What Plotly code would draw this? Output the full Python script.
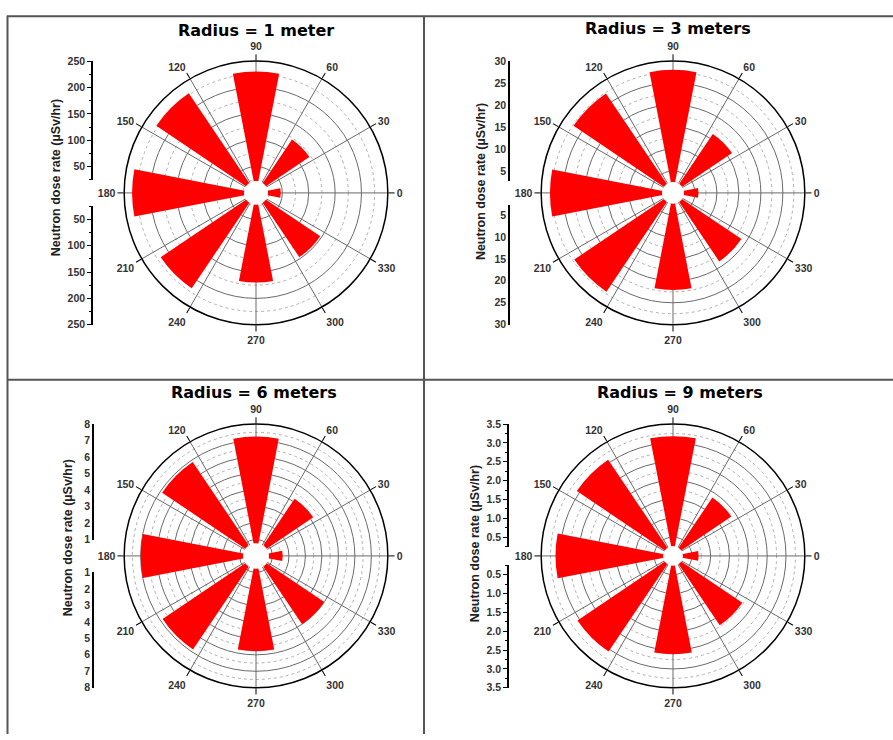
import plotly.graph_objects as go

# Directions of the detector positions (degrees) and measured neutron dose rates (µSv/hr)
directions = [0, 45, 90, 135, 180, 225, 270, 315]
dose_1m = [47, 122, 230, 228, 235, 218, 170, 147]
dose_3m = [5.8, 16.2, 28.0, 27.3, 28.0, 27.1, 22.1, 18.8]
dose_6m = [1.62, 4.19, 7.24, 6.87, 7.0, 6.84, 5.79, 5.0]
dose_9m = [0.68, 1.87, 3.18, 3.08, 3.12, 3.06, 2.61, 2.22]

titles = ["Radius = 1 meter", "Radius = 3 meters", "Radius = 6 meters", "Radius = 9 meters"]
radial_max = [250, 30, 8, 3.5]
radial_major = [
    [50, 100, 150, 200, 250],
    [5, 10, 15, 20, 25, 30],
    [1, 2, 3, 4, 5, 6, 7, 8],
    [0.5, 1.0, 1.5, 2.0, 2.5, 3.0, 3.5],
]
radial_labels = [
    ["50", "100", "150", "200", "250"],
    ["5", "10", "15", "20", "25", "30"],
    ["1", "2", "3", "4", "5", "6", "7", "8"],
    ["0.5", "1.0", "1.5", "2.0", "2.5", "3.0", "3.5"],
]
angle_ticks = list(range(0, 360, 30))
angle_labels = [str(a) for a in angle_ticks]
axis_title = "Neutron dose rate (µSv/hr)"

W, H = 893, 740
R = 134
centers = [(256, 190), (673, 190), (256, 559), (673, 559)]
axis_x = [93, 510, 94, 509]
axis_gap = [13, 12, 16, 9]
hole_px = [12, 11, 13, 10]
minor_ticks = [True, False, False, True]
title_pos = [(256, 25), (668, 23), (254, 393), (680, 393)]
ytitle_pos = [(56, 175), (481, 178), (68, 541), (475, 547)]
series = [dose_1m, dose_3m, dose_6m, dose_9m]


def fx(x):
    return x / W


def fy(y):
    return 1 - y / H


tick_font = dict(family="Liberation Sans", size=10.5, color="#333333", weight="bold")

fig = go.Figure()
layout = dict(
    width=W, height=H, margin=dict(l=0, r=0, t=0, b=0),
    paper_bgcolor="white", plot_bgcolor="white", showlegend=False,
    shapes=[], annotations=[],
)

for i in range(4):
    cx, cy = centers[i]
    dom = dict(x=[fx(cx - R), fx(cx + R)], y=[fy(cy + R), fy(cy - R)])
    vmax = radial_max[i]
    majors = radial_major[i]
    step = majors[1] - majors[0]
    minors = [m - step / 2 for m in majors]

    # dotted minor rings on an underlying polar subplot
    low = "polar" if i == 0 else f"polar{i + 1}"
    layout[low] = dict(
        domain=dom, bgcolor="white",
        radialaxis=dict(range=[0, vmax], tickvals=minors, showticklabels=False,
                        showline=False, ticks="", gridcolor="#b0b0b0",
                        griddash="dot", gridwidth=1),
        angularaxis=dict(showgrid=False, showline=False, showticklabels=False, ticks=""),
    )
    fig.add_trace(go.Scatterpolar(r=[], theta=[], subplot=low, mode="lines"))

    # main polar subplot with bars, spokes and major rings
    top = f"polar{i + 5}"
    layout[top] = dict(
        domain=dom, bgcolor="rgba(0,0,0,0)",
        radialaxis=dict(range=[0, vmax], tickvals=majors, showticklabels=False,
                        showline=False, ticks="", gridcolor="#6a6a6a", gridwidth=1,
                        layer="below traces"),
        angularaxis=dict(tickvals=angle_ticks, ticktext=angle_labels,
                         direction="counterclockwise", rotation=0,
                         showline=True, linecolor="black", linewidth=1.5,
                         gridcolor="#6a6a6a", gridwidth=1,
                         ticks="outside", ticklen=6, tickcolor="black",
                         tickfont=tick_font, layer="below traces"),
    )
    fig.add_trace(go.Barpolar(
        r=series[i], theta=directions, width=[22] * len(directions),
        subplot=top, marker=dict(color="#ff0000", line=dict(width=0)),
    ))

    # white disc covering the centre
    hp = hole_px[i]
    layout["shapes"].append(dict(
        type="circle", xref="paper", yref="paper", layer="above",
        x0=fx(cx - hp), x1=fx(cx + hp), y0=fy(cy + hp), y1=fy(cy - hp),
        fillcolor="white", line=dict(width=0),
    ))

    # side radial scale: an upper half and a mirrored lower half
    g = axis_gap[i]
    gv = g / R * vmax
    ax_common = dict(
        tickvals=majors, ticktext=radial_labels[i], showgrid=False, zeroline=False,
        showline=True, linecolor="black", linewidth=1.5,
        ticks="outside" if minor_ticks[i] else "", ticklen=4, tickcolor="black",
        tickfont=tick_font, side="left", fixedrange=True,
    )
    if minor_ticks[i]:
        ax_common["minor"] = dict(tickvals=minors, ticks="outside", ticklen=2,
                                  tickcolor="black")
    for half in range(2):
        k = 2 * i + half + 2
        xa, ya = f"xaxis{k}", f"yaxis{k}"
        layout[xa] = dict(domain=[fx(axis_x[i]), fx(axis_x[i] + 1)], visible=False,
                          range=[0, 1], anchor=f"y{k}", fixedrange=True)
        if half == 0:
            yd = [fy(cy - g), fy(cy - R)]
            rng = [gv, vmax]
        else:
            yd = [fy(cy + R), fy(cy + g)]
            rng = [vmax, gv]
        layout[ya] = dict(domain=yd, range=rng, anchor=f"x{k}", **ax_common)
        fig.add_trace(go.Scatter(x=[], y=[], xaxis=f"x{k}", yaxis=f"y{k}"))

    # panel title and side axis title
    tx, ty = title_pos[i]
    layout["annotations"].append(dict(
        text=titles[i], x=fx(tx), y=fy(ty), xref="paper", yref="paper",
        showarrow=False, xanchor="center", yanchor="middle",
        font=dict(family="DejaVu Sans", size=16, color="black", weight="bold"),
    ))
    ax_, ay_ = ytitle_pos[i]
    layout["annotations"].append(dict(
        text=axis_title, x=fx(ax_), y=fy(ay_), xref="paper", yref="paper",
        showarrow=False, textangle=-90, xanchor="center", yanchor="middle",
        font=dict(family="Liberation Sans", size=12.5, color="#222222", weight="bold"),
    ))

# table frame around the four panels
frame = "#555555"
for x0, y0, x1, y1 in [(7, 10.5, W, 10.5), (7.5, 10, 7.5, H), (424, 10, 424, H),
                       (7, 380, W, 380)]:
    layout["shapes"].append(dict(
        type="line", xref="paper", yref="paper", layer="below",
        x0=fx(x0), y0=fy(y0), x1=fx(x1), y1=fy(y1),
        line=dict(color=frame, width=2),
    ))

fig.update_layout(**layout)
fig.write_html("out.html")
